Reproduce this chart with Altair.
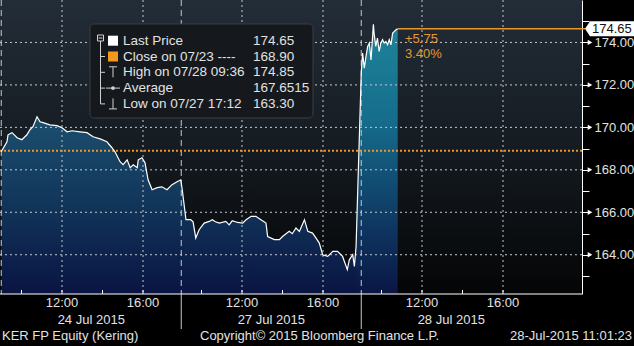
import altair as alt
import pandas as pd

# ---------------- data ----------------
DAY_LABELS = ["24 Jul 2015", "27 Jul 2015", "28 Jul 2015"]

d1_time = ["09:00", "09:17", "09:20", "09:32", "09:47", "10:01", "10:16", "10:25", "10:34", "10:46",
           "10:55", "11:04", "11:24", "11:45", "12:00", "12:15", "12:30", "12:53", "13:14", "13:32",
           "13:53", "14:13", "14:28", "14:37", "14:52", "15:01", "15:13", "15:22", "15:31", "15:43",
           "15:46", "15:57", "16:06", "16:15", "16:27", "16:42", "16:56", "17:11", "17:26", "17:41", "17:52"]
d1_price = [168.85, 169.32, 169.65, 169.75, 169.51, 169.42, 169.65, 169.89, 170.03, 170.50,
            170.26, 170.22, 170.12, 170.08, 169.98, 169.79, 169.84, 169.79, 169.75, 169.56,
            169.46, 169.32, 169.04, 168.85, 168.38, 168.24, 168.47, 168.10, 168.24, 168.10,
            168.47, 168.57, 168.33, 167.53, 167.06, 167.16, 167.20, 167.06, 167.30, 167.44, 167.53]

d2_time = ["09:03", "09:14", "09:28", "09:35", "09:43", "09:53", "10:08", "10:23", "10:32", "10:41",
           "10:53", "11:12", "11:22", "11:31", "11:47", "12:02", "12:12", "12:27", "12:41", "12:56",
           "13:11", "13:16", "13:36", "13:51", "14:00", "14:20", "14:29", "14:40", "14:50", "15:05",
           "15:15", "15:29", "15:39", "15:49", "15:59", "16:14", "16:29", "16:43", "16:58", "17:12",
           "17:18", "17:28", "17:33", "17:38"]
d2_price = [167.06, 165.65, 165.65, 165.55, 164.79, 165.18, 165.49, 165.57, 165.65, 165.55,
            165.49, 165.57, 165.41, 165.60, 165.52, 165.49, 165.65, 165.81, 165.81, 165.65,
            165.49, 164.86, 164.71, 164.71, 164.86, 165.10, 164.99, 165.26, 165.10, 165.65,
            165.10, 165.02, 164.79, 164.55, 164.00, 163.92, 164.16, 164.16, 163.92, 163.30,
            163.76, 164.00, 163.45, 164.39]

d3_time = ["09:00", "09:04", "09:09", "09:14", "09:19", "09:24", "09:29", "09:36", "09:38", "09:43",
           "09:48", "09:53", "09:58", "10:03", "10:08", "10:13", "10:18", "10:23", "10:28", "10:33",
           "10:38", "10:43", "10:48"]
d3_price = [172.56, 173.50, 172.79, 173.34, 173.81, 173.97, 173.18, 174.85, 174.44, 173.81,
            174.21, 173.58, 173.97, 174.13, 173.97, 174.05, 173.89, 174.13, 173.89, 174.44,
            174.52, 174.60, 174.65]

TIME_LABELS = ["12:00", "16:00"]
MINOR_TIMES = ["10:00", "12:00", "14:00", "16:00"]
Y_LABELED = [164, 166, 168, 170, 172, 174]
Y_TICKS = list(range(163, 176))
PREV_CLOSE = 168.90
LAST_PRICE = 174.65
CHANGE_TEXT = ["+5.75", "3.40%"]

LEGEND_LABELS = ["Last Price", "Close on 07/23 ----", "High on 07/28 09:36", "Average", "Low on 07/27 17:12"]
LEGEND_VALUES = ["174.65", "168.90", "174.85", "167.6515", "163.30"]
FOOTER = ["KER FP Equity (Kering)", "Copyright\u00a9 2015 Bloomberg Finance L.P.", "28-Jul-2015 11:01:23"]

# ---------------- helpers ----------------
FONT = "Liberation Sans"
SESSION = 180 / 20.25          # chart-hours occupied by one trading day
W, H = 582, 294
Y_MIN, Y_MAX = 162.15, 176.0
TXT = "#e2e2e2"
ORANGE = "#e8962e"
GRID = "#c4c8cc"


def pos(day, hhmm):
    h, m = map(int, hhmm.split(":"))
    return day * SESSION + h + m / 60 - 9


rows = []
for d, (ts, ps) in enumerate([(d1_time, d1_price), (d2_time, d2_price), (d3_time, d3_price)]):
    for t, p in zip(ts, ps):
        rows.append({"t": pos(d, t), "v": p, "day": d})
prices = pd.DataFrame(rows)
area12 = prices[prices.day < 2]
area3 = pd.concat([prices[prices.day == 1].tail(1), prices[prices.day == 2]])

xscale = alt.Scale(domain=[-1.25 / 20.25, (W - 1.25) / 20.25], nice=False, zero=False)
yscale = alt.Scale(domain=[Y_MIN, Y_MAX], nice=False, zero=False)
yaxis = alt.Axis(orient="right", values=Y_TICKS,
                 labelExpr="datum.value % 2 == 0 ? format(datum.value, '.2f') : ''",
                 grid=False, domainColor="white", domainWidth=1, tickColor="white", tickSize=7,
                 labelColor=TXT, labelFont=FONT, labelFontSize=13, labelPadding=5,
                 labelOverlap=False, labelBound=False, labelFlush=False, title=None)
X = alt.X("t:Q", scale=xscale, axis=None)
Y = alt.Y("v:Q", scale=yscale, axis=yaxis)
ONE = pd.DataFrame({"a": [0]})


def grad(stops):
    return alt.Gradient(gradient="linear", x1=0, x2=0, y1=0, y2=1,
                        stops=[alt.GradientStop(color=c, offset=o) for o, c in stops])


def vrule(x, y1, y2, color="#cfcfcf", width=1):
    return alt.Chart(ONE).mark_rule(color=color, strokeWidth=width).encode(
        x=alt.value(x), y=alt.value(y1), y2=alt.value(y2))


def hrule(x1, x2, y, color="#cfcfcf", width=1):
    return alt.Chart(ONE).mark_rule(color=color, strokeWidth=width).encode(
        x=alt.value(x1), x2=alt.value(x2), y=alt.value(y))


def box(x1, x2, y1, y2, **kw):
    return alt.Chart(ONE).mark_rect(**kw).encode(
        x=alt.value(x1), x2=alt.value(x2), y=alt.value(y1), y2=alt.value(y2))


def label(text, x, y, color=TXT, align="left", size=13):
    return alt.Chart(ONE).mark_text(text=text, font=FONT, fontSize=size, color=color,
                                    align=align, baseline="middle").encode(x=alt.value(x), y=alt.value(y))


layers = []

# plot background gradient
layers.append(box(0, W, 0, H, fill=grad([(0, "#232d38"), (0.5, "#151b21"), (1, "#040506")])))

# areas (down to the bottom of the value scale)
layers.append(alt.Chart(area12).mark_area(
    fill=grad([(0, "#1c4f6f"), (0.45, "#12385c"), (1, "#0a1442")])).encode(
    x=X, y=Y, y2=alt.Y2(datum=Y_MIN)))
layers.append(alt.Chart(area3).mark_area(
    fill=grad([(0, "#1e8499"), (0.35, "#166d8c"), (0.7, "#0f3d66"), (1, "#0a1644")])).encode(
    x=X, y=Y, y2=alt.Y2(datum=Y_MIN)))

# horizontal grid
layers.append(alt.Chart(pd.DataFrame({"v": Y_LABELED})).mark_rule(
    color=GRID, strokeDash=[2, 3], strokeWidth=1).encode(y=Y, x=alt.value(0), x2=alt.value(W)))

# vertical grid at 12:00 / 16:00
vg = pd.DataFrame([{"t": pos(d, t), "label": t} for d in range(3) for t in TIME_LABELS])
layers.append(alt.Chart(vg).mark_rule(color=GRID, strokeDash=[2, 3], strokeWidth=1).encode(
    x=X, y=alt.value(0), y2=alt.value(H)))

# day separators in the plot
seps = pd.DataFrame({"t": [pos(d, "09:00") for d in range(3)]})
layers.append(alt.Chart(seps).mark_rule(color=GRID, strokeDash=[6, 4], strokeWidth=1).encode(
    x=X, y=alt.value(0), y2=alt.value(H)))

# previous close dotted
layers.append(alt.Chart(pd.DataFrame({"v": [PREV_CLOSE]})).mark_rule(
    color=ORANGE, strokeDash=[2, 2], strokeWidth=2).encode(y=Y, x=alt.value(0), x2=alt.value(W)))

# price line
layers.append(alt.Chart(prices).mark_line(color="white", strokeWidth=1.2).encode(x=X, y=Y))

# last price orange line
last_t = prices.t.iloc[-1]
layers.append(alt.Chart(pd.DataFrame({"t": [last_t], "v": [LAST_PRICE]})).mark_rule(
    color=ORANGE, strokeWidth=1.5).encode(x=X, x2=alt.value(585), y=Y))
layers.append(label(CHANGE_TEXT[0], 405, 38.5, color=ORANGE))
layers.append(label(CHANGE_TEXT[1], 405, 54, color=ORANGE))

# legend box
layers.append(box(90, 313, 24, 118, fill="#15181c", stroke="#3a3e44", strokeWidth=1, cornerRadius=4))
ICON = "#d0d0d0"
ry = [40.7 + 15.8 * i for i in range(5)]
layers.append(box(97.5, 103.5, 35, 41, fill="#15181c", stroke=ICON, strokeWidth=1))
layers.append(hrule(98.5, 102.5, 38, ICON))
layers.append(vrule(100.5, 41, ry[4], ICON))
for i in range(1, 5):
    layers.append(hrule(100.5, 105, ry[i], ICON))
layers.append(box(108, 118, ry[0] - 5, ry[0] + 5, fill="white"))
layers.append(box(108, 118, ry[1] - 5, ry[1] + 5, fill="#f39a1e"))
layers.append(hrule(109, 117, ry[2] - 5.5, ICON))
layers.append(vrule(113, ry[2] - 5.5, ry[2] + 5, ICON))
layers.append(hrule(106, 120, ry[3], ICON))
layers.append(alt.Chart(ONE).mark_point(filled=True, color=ICON, size=14, opacity=1).encode(
    x=alt.value(113), y=alt.value(ry[3])))
layers.append(vrule(113, ry[4] - 5.5, ry[4] + 5, ICON))
layers.append(hrule(109, 117, ry[4] + 5, ICON))
for i in range(5):
    layers.append(label(LEGEND_LABELS[i], 123, ry[i], size=13.5))
    layers.append(label(LEGEND_VALUES[i], 253, ry[i], size=13.5))

# right axis markers
layers.append(alt.Chart(pd.DataFrame({"v": Y_LABELED})).mark_point(
    shape="triangle-right", filled=True, color="white", size=28, opacity=1).encode(x=alt.value(590), y=Y))

# last price tag
tag = "M -1 0 L -0.796 -0.306 L 1 -0.306 L 1 0.306 L -0.796 0.306 Z"
lp = pd.DataFrame({"v": [LAST_PRICE], "txt": [f"{LAST_PRICE:.2f}"]})
layers.append(alt.Chart(lp).mark_point(shape=tag, filled=True, color="white", size=2401, opacity=1,
                                        strokeWidth=0).encode(x=alt.value(609.5), y=Y))
layers.append(alt.Chart(lp).mark_text(font=FONT, fontSize=13, color="#111", align="left",
                                      baseline="middle").encode(x=alt.value(592), y=Y, text="txt:N"))

# bottom axis
layers.append(hrule(0, W, H, "white"))
mt = pd.DataFrame({"t": [pos(d, t) for d in range(3) for t in MINOR_TIMES]})
layers.append(alt.Chart(mt).mark_rule(color="white").encode(x=X, y=alt.value(H - 4), y2=alt.value(H)))
layers.append(alt.Chart(vg).mark_text(font=FONT, fontSize=13, color=TXT, baseline="middle").encode(
    x=X, y=alt.value(303), text="label:N"))
dl = pd.DataFrame({"t": [pos(d, "09:00") + SESSION / 2 for d in range(3)], "label": DAY_LABELS})
layers.append(alt.Chart(dl).mark_text(font=FONT, fontSize=13, color=TXT, baseline="middle").encode(
    x=X, y=alt.value(320), text="label:N"))
layers.append(alt.Chart(seps.iloc[1:]).mark_rule(color="#c8c8c8").encode(
    x=X, y=alt.value(H), y2=alt.value(329)))

# footer
layers.append(label(FOOTER[0], 2, 336))
layers.append(label(FOOTER[1], 200, 336))
layers.append(label(FOOTER[2], 632, 336, align="right"))

chart = alt.layer(*layers).properties(
    width=W, height=H,
    padding={"left": 0, "top": 0, "right": 634 - W, "bottom": 346 - H},
    autosize=alt.AutoSizeParams(type="none"),
    background="#000000",
).configure_view(strokeWidth=0)

chart.save("out.html", embed_options={"renderer": "svg", "actions": False})
